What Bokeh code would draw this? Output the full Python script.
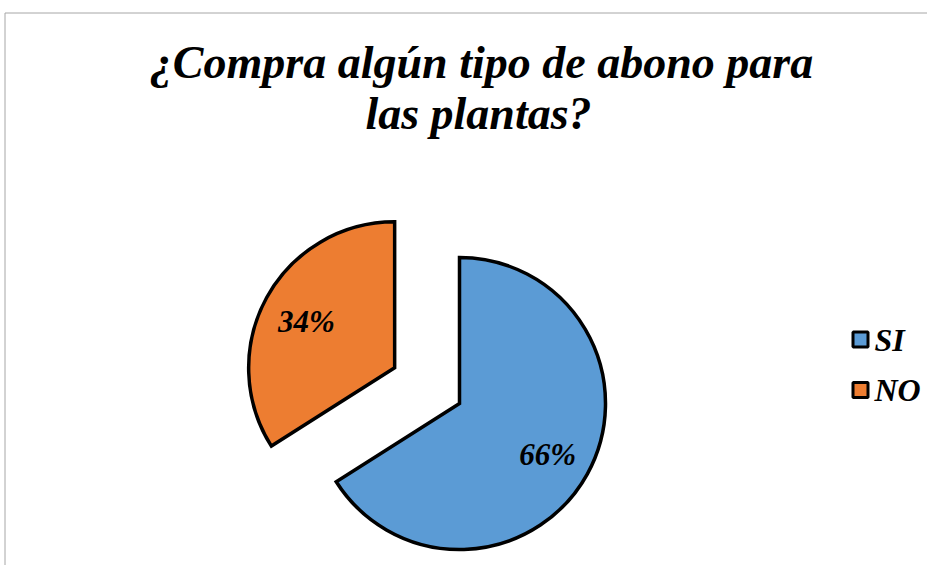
import math
from bokeh.plotting import figure
from bokeh.models import ColumnDataSource, Range1d
from bokeh.core.properties import value
from bokeh.embed import file_html
from bokeh.resources import INLINE

# ---- data ----
categories = ["SI", "NO"]
percentages = [66, 34]
colors = ["#5B9BD5", "#ED7D31"]
title_lines = ["¿Compra algún tipo de abono para", "las plantas?"]

W, H = 927, 565
FONT = "Liberation Serif"

p = figure(width=W, height=H, output_backend="svg", toolbar_location=None,
           x_range=Range1d(0, W), y_range=Range1d(0, H), min_border=0,
           match_aspect=False)
p.axis.visible = False
p.grid.visible = False
p.outline_line_color = None
p.background_fill_color = "white"
p.border_fill_color = "white"

def sx(x):  # screen x -> data
    return x
def sy(y):  # screen y -> data
    return H - y

# chart frame
p.line(x=[sx(4.5), sx(4.5), W + 10], y=[-10, sy(12.5), sy(12.5)],
       line_color="#A6A6A6", line_width=1)

# pie geometry
cx, cy = sx(459), sy(403)
r = 146
explode = 74
total = sum(percentages)
starts, ends, xs, ys, lx, ly, labels = [], [], [], [], [], [], []
acc = 0.0
for i, v in enumerate(percentages):
    a0 = math.pi / 2 - 2 * math.pi * acc / total
    a1 = math.pi / 2 - 2 * math.pi * (acc + v) / total
    mid = (a0 + a1) / 2
    off = explode if categories[i] == "NO" else 0
    x0 = cx + off * math.cos(mid)
    y0 = cy + off * math.sin(mid)
    starts.append(a0); ends.append(a1); xs.append(x0); ys.append(y0)
    lx.append(x0 + 0.69 * r * math.cos(mid))
    ly.append(y0 + 0.69 * r * math.sin(mid) - 2)
    labels.append(f"{v}%")
    acc += v

src = ColumnDataSource(dict(x=xs, y=ys, start=starts, end=ends, color=colors,
                            lx=lx, ly=ly, label=labels))
p.wedge(x="x", y="y", radius=r, start_angle="start", end_angle="end",
        direction="clock", fill_color="color", line_color="black",
        line_width=3.5, line_join="miter", source=src)
p.text(x="lx", y="ly", text="label", text_font=value(FONT),
       text_font_style="bold italic", text_font_size="31px",
       text_align="center", text_baseline="middle", text_color="black", source=src)

# title
p.text(x=[sx(481)], y=[sy(62)], text=[title_lines[0]], text_font=value(FONT),
       text_font_style="bold italic", text_font_size="46px",
       text_align="center", text_baseline="middle", text_color="black")
p.text(x=[sx(478)], y=[sy(112.5)], text=[title_lines[1]], text_font=value(FONT),
       text_font_style="bold italic", text_font_size="46px",
       text_align="center", text_baseline="middle", text_color="black")

# legend
leg_y = [sy(339), sy(389.5)]
p.rect(x=[sx(860)] * 2, y=leg_y, width=15, height=15,
       fill_color=colors, line_color="black", line_width=3)
p.text(x=[sx(874)] * 2, y=leg_y, text=categories, text_font=value(FONT),
       text_font_style="bold italic", text_font_size="32px",
       text_align="left", text_baseline="middle", text_color="black")

open("out.html", "w").write(file_html(p, INLINE))
